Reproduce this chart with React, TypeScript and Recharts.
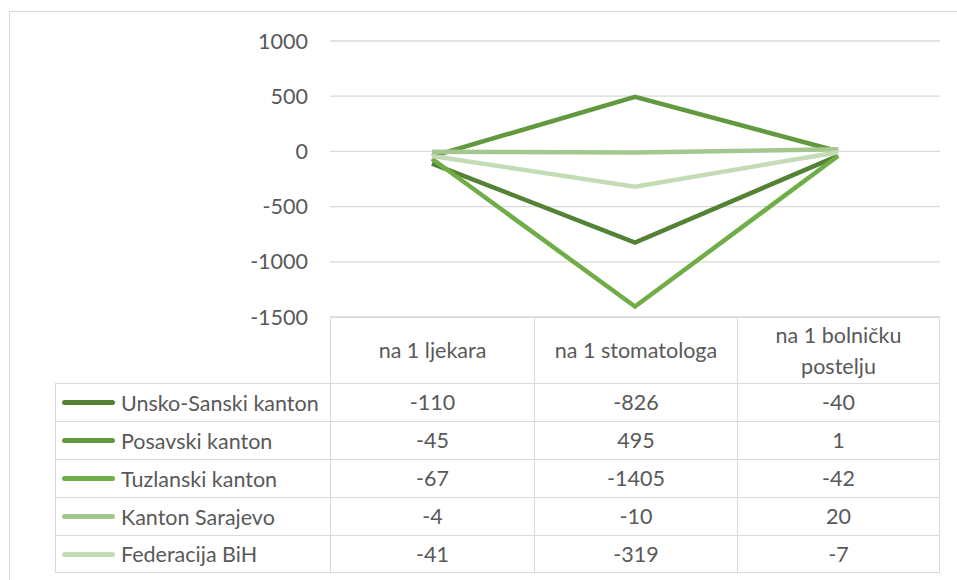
import { LineChart, Line, XAxis, YAxis, CartesianGrid } from "recharts";

const categories = ["na 1 ljekara", "na 1 stomatologa", "na 1 bolničku postelju"];
const headerLines = [["na 1 ljekara"], ["na 1 stomatologa"], ["na 1 bolničku", "postelju"]];

const unskoSanski = [-110, -826, -40];
const posavski = [-45, 495, 1];
const tuzlanski = [-67, -1405, -42];
const sarajevo = [-4, -10, 20];
const federacija = [-41, -319, -7];

const yTicks = [-1500, -1000, -500, 0, 500, 1000];

const series = [
  { key: "u", name: "Unsko-Sanski kanton", values: unskoSanski, color: "#548235" },
  { key: "p", name: "Posavski kanton", values: posavski, color: "#62993e" },
  { key: "t", name: "Tuzlanski kanton", values: tuzlanski, color: "#70ad47" },
  { key: "s", name: "Kanton Sarajevo", values: sarajevo, color: "#a3c78f" },
  { key: "f", name: "Federacija BiH", values: federacija, color: "#c4dcb6" },
];

const data = categories.map((c, i) => {
  const row: Record<string, string | number> = { cat: c };
  series.forEach((s) => (row[s.key] = s.values[i]));
  return row;
});

const FONT = "Lato, 'Open Sans', sans-serif";
const FS = 21.5;
const TEXT = "#595959";
const BORDER = "#d9d9d9";

// table geometry
const colX = [330, 534, 737, 940];
const headTop = 317;
const headBottom = 383;
const rowH = 38;
const legendLeft = 55;

export default function App() {
  const cellText: React.CSSProperties = {
    position: "absolute",
    fontFamily: FONT,
    fontSize: FS,
    color: TEXT,
    display: "flex",
    alignItems: "center",
    justifyContent: "center",
    textAlign: "center",
    lineHeight: "31px",
  };
  return (
    <div
      style={{
        position: "fixed",
        left: 0,
        top: 0,
        width: 957,
        height: 580,
        overflow: "hidden",
        background: "#fff",
      }}
    >
      <div
        style={{
          position: "absolute",
          left: 9,
          top: 11,
          width: 1000,
          height: 700,
          border: `1px solid ${BORDER}`,
        }}
      />
      <div style={{ position: "absolute", left: 0, top: 0 }}>
        <LineChart
          width={957}
          height={580}
          data={data}
          margin={{ top: 41, right: 17, bottom: 263, left: 0 }}
        >
          <CartesianGrid vertical={false} stroke={BORDER} strokeWidth={1.3} />
          <XAxis dataKey="cat" hide padding={{ left: 102, right: 102 }} />
          <YAxis
            width={330}
            domain={[-1500, 1000]}
            ticks={yTicks}
            axisLine={false}
            tickLine={false}
            tickMargin={16}
            tick={{ fontSize: FS, fill: TEXT, fontFamily: FONT }}
          />
          {series.map((s) => (
            <Line
              key={s.key}
              dataKey={s.key}
              name={s.name}
              stroke={s.color}
              strokeWidth={4.5}
              dot={false}
              type="linear"
              isAnimationActive={false}
            />
          ))}
        </LineChart>
      </div>

      {/* data table: header */}
      {headerLines.map((lines, i) => (
        <div
          key={"h" + i}
          style={{
            ...cellText,
            left: colX[i],
            top: headTop,
            width: colX[i + 1] - colX[i],
            height: headBottom - headTop,
            flexDirection: "column",
            borderLeft: `1px solid ${BORDER}`,
            borderTop: `1px solid ${BORDER}`,
            borderRight: i === 2 ? `1px solid ${BORDER}` : undefined,
            boxSizing: "border-box",
          }}
        >
          {lines.map((l) => (
            <span key={l}>{l}</span>
          ))}
        </div>
      ))}

      {/* data table: rows */}
      {series.map((s, r) => {
        const top = headBottom + r * rowH;
        return (
          <div key={s.key}>
            <div
              style={{
                position: "absolute",
                left: legendLeft,
                top,
                width: colX[0] - legendLeft,
                height: rowH,
                borderLeft: `1px solid ${BORDER}`,
                borderTop: `1px solid ${BORDER}`,
                borderBottom: r === series.length - 1 ? `1px solid ${BORDER}` : undefined,
                boxSizing: "border-box",
                display: "flex",
                alignItems: "center",
              }}
            >
              <div
                style={{
                  marginLeft: 6,
                  width: 53,
                  height: 5,
                  borderRadius: 3,
                  background: s.color,
                }}
              />
              <span
                style={{
                  marginLeft: 6,
                  fontFamily: FONT,
                  fontSize: FS,
                  color: TEXT,
                  whiteSpace: "nowrap",
                }}
              >
                {s.name}
              </span>
            </div>
            {s.values.map((v, i) => (
              <div
                key={i}
                style={{
                  ...cellText,
                  left: colX[i],
                  top,
                  width: colX[i + 1] - colX[i],
                  height: rowH,
                  borderLeft: `1px solid ${BORDER}`,
                  borderTop: `1px solid ${BORDER}`,
                  borderRight: i === 2 ? `1px solid ${BORDER}` : undefined,
                  borderBottom: r === series.length - 1 ? `1px solid ${BORDER}` : undefined,
                  boxSizing: "border-box",
                }}
              >
                {v}
              </div>
            ))}
          </div>
        );
      })}
    </div>
  );
}
